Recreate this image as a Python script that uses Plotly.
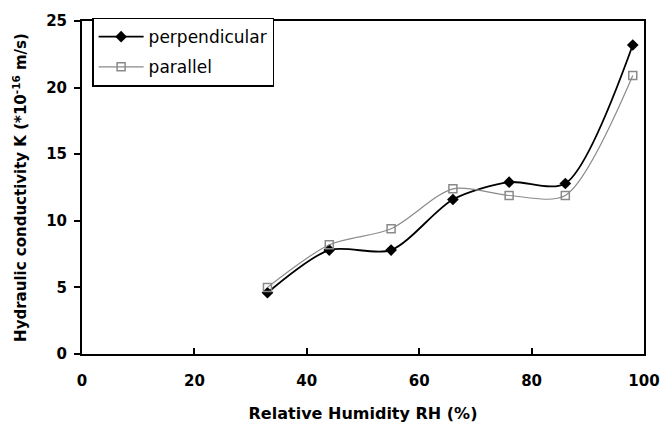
import plotly.graph_objects as go

rh = [33, 44, 55, 66, 76, 86, 98]
perpendicular = [4.6, 7.8, 7.8, 11.6, 12.9, 12.8, 23.2]
parallel = [5.0, 8.2, 9.4, 12.4, 11.9, 11.9, 20.9]

FAM = "DejaVu Sans, Liberation Sans, Arial, sans-serif"

fig = go.Figure()
fig.add_trace(go.Scatter(
    x=rh, y=perpendicular, name="perpendicular", mode="lines+markers",
    legendgroup="a",
    line=dict(color="black", width=1.8, shape="spline", smoothing=0.8),
    marker=dict(symbol="diamond", size=9, color="black"),
))
fig.add_trace(go.Scatter(
    x=rh, y=parallel, name="parallel", mode="lines+markers",
    legendgroup="b",
    line=dict(color="#8a8a8a", width=1.2, shape="spline", smoothing=0.8),
    marker=dict(symbol="square-open", size=8, color="#8a8a8a", line=dict(width=1.5)),
))

fig.update_layout(
    width=672, height=432,
    margin=dict(l=82, r=19, t=16, b=78),
    plot_bgcolor="white", paper_bgcolor="white",
    font=dict(family=FAM, size=14, color="black"),
    showlegend=True,
    legend=dict(x=0.018, y=1.01, xanchor="left", yanchor="top",
                bordercolor="black", borderwidth=1.5, bgcolor="white",
                font=dict(family=FAM, size=17, color="black"),
                itemwidth=45, tracegroupgap=5),
)
tickfont = dict(family=FAM, size=15, color="black", weight="bold")
fig.update_xaxes(
    range=[0, 100], tickvals=[0, 20, 40, 60, 80, 100],
    ticks="inside", ticklen=6, tickwidth=1.5, tickcolor="black",
    ticklabelstandoff=12,
    showline=True, linecolor="black", linewidth=2, mirror=True,
    showgrid=False, zeroline=False,
    tickfont=tickfont,
    title=dict(text="<b>Relative Humidity RH (%)</b>", standoff=19,
               font=dict(family=FAM, size=16)),
)
fig.update_yaxes(
    range=[0, 25], tickvals=[0, 5, 10, 15, 20, 25],
    ticks="outside", ticklen=6, tickwidth=1.5, tickcolor="black",
    ticklabelstandoff=4,
    showline=True, linecolor="black", linewidth=2, mirror=True,
    showgrid=False, zeroline=False,
    tickfont=tickfont,
    title=dict(text="<b>Hydraulic conductivity K (*10<sup>-16</sup> m/s)</b>", standoff=16,
               font=dict(family=FAM, size=15)),
)

fig.write_html("out.html")
